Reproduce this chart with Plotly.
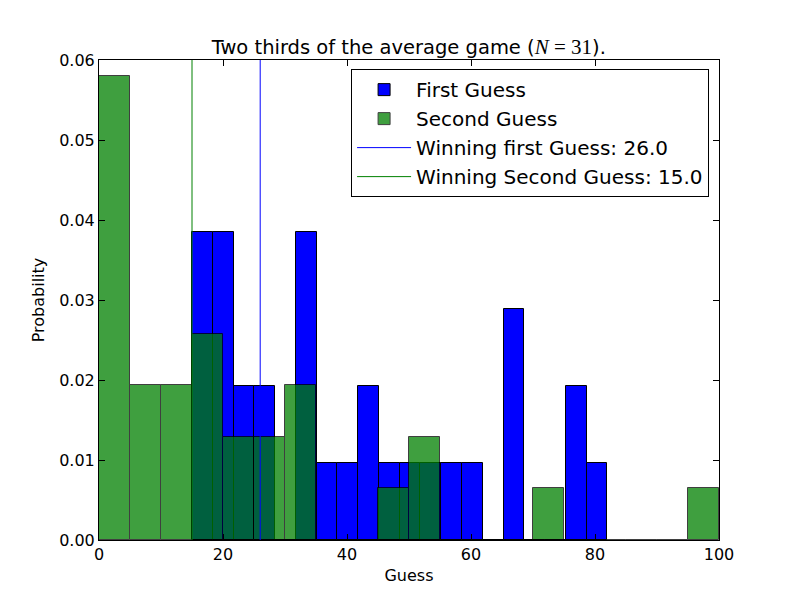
import numpy as np
import plotly.graph_objects as go

# First guess histogram: 20 bins spanning min..max of guesses, normalised (density)
first_bin_min = 15.0
first_bin_max = 82.0
first_heights = [0.0385, 0.0385, 0.0193, 0.0193, 0.0, 0.0385, 0.0096, 0.0096, 0.0193, 0.0096,
                 0.0096, 0.0096, 0.0096, 0.0096, 0.0, 0.0289, 0.0, 0.0, 0.0193, 0.0096]

# Second guess histogram: 20 bins of width 5 from 0 to 100
second_bin_edges = [0, 5, 10, 15, 20, 25, 30, 35, 40, 45, 50, 55, 60, 65, 70, 75, 80, 85, 90, 95, 100]
second_heights = [0.0580, 0.0194, 0.0194, 0.0258, 0.0129, 0.0129, 0.0194, 0.0, 0.0, 0.00645,
                  0.0129, 0.0, 0.0, 0.0, 0.00645, 0.0, 0.0, 0.0, 0.0, 0.00645]

winning_first = 26.0
winning_second = 15.0

x_range = [0, 100]
y_range = [0, 0.06]
x_ticks = [0, 20, 40, 60, 80, 100]
y_ticks = [0.00, 0.01, 0.02, 0.03, 0.04, 0.05, 0.06]

first_edges = np.linspace(first_bin_min, first_bin_max, len(first_heights) + 1)
first_centers = (first_edges[:-1] + first_edges[1:]) / 2
first_widths = np.diff(first_edges)

se = np.array(second_bin_edges, dtype=float)
second_centers = (se[:-1] + se[1:]) / 2
second_widths = np.diff(se)

font = "DejaVu Sans"

fig = go.Figure()
fig.add_trace(go.Bar(
    x=first_centers, y=first_heights, width=first_widths,
    name="First Guess",
    marker=dict(color="#0000ff", line=dict(color="black", width=1)),
))
fig.add_trace(go.Bar(
    x=second_centers, y=second_heights, width=second_widths,
    name="Second Guess", opacity=0.75,
    marker=dict(color="#008000", line=dict(color="black", width=1)),
))
fig.add_trace(go.Scatter(
    x=[winning_first, winning_first], y=y_range, mode="lines",
    name=f"Winning first Guess: {winning_first:.1f}",
    line=dict(color="#0000ff", width=1),
))
fig.add_trace(go.Scatter(
    x=[winning_second, winning_second], y=y_range, mode="lines",
    name=f"Winning Second Guess: {winning_second:.1f}",
    line=dict(color="#008000", width=1),
))

fig.update_layout(
    width=800, height=600,
    barmode="overlay", bargap=0,
    plot_bgcolor="white", paper_bgcolor="white",
    margin=dict(l=99, r=81, t=60, b=60),
    font=dict(family=font, color="black", size=16),
    title=dict(
        text="Two thirds of the average game (<span style=\"font-family:'Liberation Serif';font-size:21px\"><i>N</i> = 31</span>).",
        x=0.511, xanchor="center", y=1 - 47 / 600, yanchor="middle", yref="container",
        font=dict(family=font, size=19.5, color="black"),
    ),
    legend=dict(
        x=0.984, xanchor="right", y=0.981, yanchor="top",
        bgcolor="white", bordercolor="black", borderwidth=1,
        font=dict(family=font, size=20, color="black"),
        tracegroupgap=0, itemwidth=54,
    ),
    showlegend=True,
)
fig.update_xaxes(
    range=x_range, tickvals=x_ticks, ticks="inside", ticklen=6, tickcolor="black",
    showline=True, linecolor="black", linewidth=1, mirror="allticks",
    showgrid=False, zeroline=False,
    title=dict(text="Guess", font=dict(size=16), standoff=6),
    tickfont=dict(size=16),
)
fig.update_yaxes(
    range=y_range, tickvals=y_ticks, tickformat=".2f", ticks="inside", ticklen=6, tickcolor="black",
    showline=True, linecolor="black", linewidth=1, mirror="allticks",
    showgrid=False, zeroline=False,
    title=dict(text="Probability", font=dict(size=16), standoff=10),
    tickfont=dict(size=16),
)

fig.write_html("out.html", config={"displayModeBar": False},
               post_script="document.body.style.margin='0';document.body.style.padding='0';")
